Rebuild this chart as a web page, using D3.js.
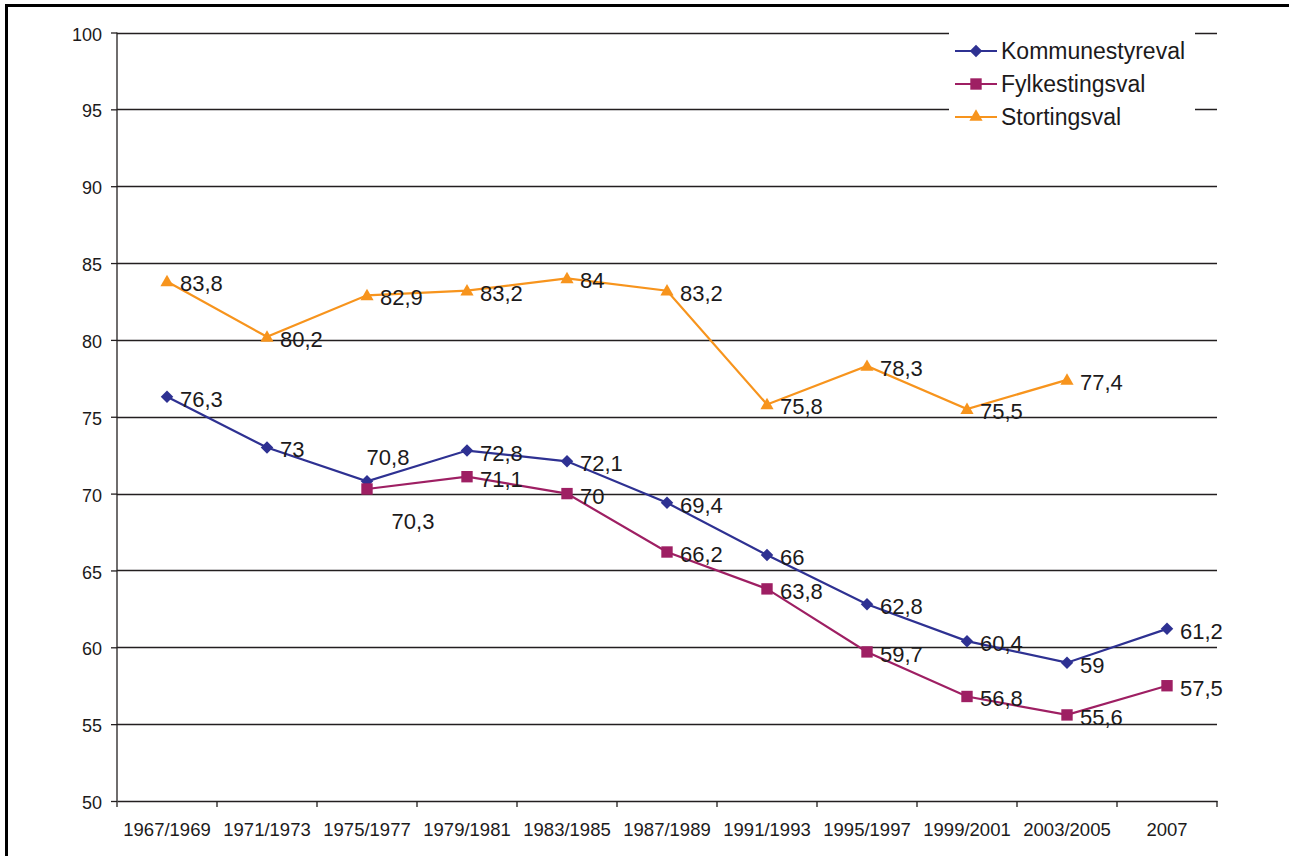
<!DOCTYPE html>
<html>
	<head>
		<title>Valdeltaking</title>
		<style>
			body, html {
				margin: 0;
				padding: 0;
				background: #fff;
			}
			text {
				font-family: 'Liberation Sans', Arial, sans-serif;
				fill: #1c1a1b;
			}
		</style>
	</head>
	<body>

		<svg id="svg" width="1289" height="856"></svg>

		<script src="https://d3js.org/d3.v7.min.js"></script>
		<script>
			// Election periods (x axis)
			const periods = ['1967/1969', '1971/1973', '1975/1977', '1979/1981', '1983/1985',
				'1987/1989', '1991/1993', '1995/1997', '1999/2001', '2003/2005', '2007']

			// Turnout in percent, null where there was no election
			const kommunestyreval = [76.3, 73, 70.8, 72.8, 72.1, 69.4, 66, 62.8, 60.4, 59, 61.2]
			const fylkestingsval = [null, null, 70.3, 71.1, 70, 66.2, 63.8, 59.7, 56.8, 55.6, 57.5]
			const stortingsval = [83.8, 80.2, 82.9, 83.2, 84, 83.2, 75.8, 78.3, 75.5, 77.4, null]

			const yTicks = [50, 55, 60, 65, 70, 75, 80, 85, 90, 95, 100]

			const series = [
				{ name: 'Kommunestyreval', values: kommunestyreval, color: '#2e3192', symbol: d3.symbolDiamond2, size: 100 },
				{ name: 'Fylkestingsval', values: fylkestingsval, color: '#9e1f63', symbol: d3.symbolSquare2, size: 165 },
				{ name: 'Stortingsval', values: stortingsval, color: '#f7941d', symbol: d3.symbolTriangle2, size: 125 }
			]

			// a couple of labels were moved by hand in the original
			const labelNudge = {
				'Kommunestyreval-2': [0, -26],
				'Fylkestingsval-2': [25, 30]
			}

			const svg = d3.select('#svg')

			// frame on left and top
			svg.append('line').attr('x1', 6.5).attr('x2', 6.5).attr('y1', 4).attr('y2', 856)
				.attr('stroke', '#000').attr('stroke-width', 3)
			svg.append('line').attr('x1', 5).attr('x2', 1289).attr('y1', 5.5).attr('y2', 5.5)
				.attr('stroke', '#000').attr('stroke-width', 3)

			const x = d3.scaleBand()
				.domain(periods)
				.range([117, 1217])

			const y = d3.scaleLinear()
				.domain([50, 100])
				.range([801, 32.5])

			const cx = d => x(d) + x.bandwidth() / 2

			// gridlines
			svg.append('g')
				.selectAll('line')
				.data(yTicks.filter(t => t > 50))
				.join('line')
				.attr('x1', 117)
				.attr('x2', 1217)
				.attr('y1', d => Math.round(y(d)) + 0.5)
				.attr('y2', d => Math.round(y(d)) + 0.5)
				.attr('stroke', '#231f20')
				.attr('stroke-width', 1.3)

			// y axis
			const yAxis = svg.append('g')
				.attr('transform', 'translate(117,0)')
				.call(d3.axisLeft(y).tickValues(yTicks).tickSize(6).tickPadding(9))
			yAxis.selectAll('path, line').attr('stroke', '#231f20').attr('stroke-width', 1.3)
			yAxis.select('.domain').attr('d', `M0,${y(100)}V${y(50)}`)
			yAxis.selectAll('text')
				.attr('font-size', 18)
				.attr('font-family', null)
				.attr('fill', null)
				.attr('dy', '0.42em')

			// x axis
			const xAxis = svg.append('g')
				.attr('transform', `translate(0,${y(50)})`)
				.call(d3.axisBottom(x).tickSize(0).tickPadding(22))
			xAxis.select('.domain').attr('stroke', '#231f20').attr('stroke-width', 1.3)
			xAxis.selectAll('text')
				.attr('font-size', 18.5)
				.attr('font-family', null)
				.attr('fill', null)
			xAxis.selectAll('.tick-mark')
				.data(periods.map(p => x(p)).concat([1217]))
				.join('line')
				.attr('x1', d => d)
				.attr('x2', d => d)
				.attr('y1', 0)
				.attr('y2', 6)
				.attr('stroke', '#231f20')
				.attr('stroke-width', 1.3)

			// lines, markers, labels
			series.forEach(s => {
				const pts = periods.map((p, i) => ({ p, v: s.values[i], i })).filter(d => d.v !== null)

				const line = d3.line()
					.x(d => cx(d.p))
					.y(d => y(d.v))

				svg.append('path')
					.datum(pts)
					.attr('d', line)
					.attr('fill', 'none')
					.attr('stroke', s.color)
					.attr('stroke-width', 2.2)

				svg.append('g')
					.selectAll('path')
					.data(pts)
					.join('path')
					.attr('transform', d => `translate(${cx(d.p)},${y(d.v) + (s.symbol === d3.symbolTriangle2 ? 1 : 0)})`)
					.attr('d', d3.symbol(s.symbol, s.size))
					.attr('fill', s.color)

				svg.append('g')
					.selectAll('text')
					.data(pts)
					.join('text')
					.attr('x', d => {
						const n = labelNudge[s.name + '-' + d.i]
						return n ? cx(d.p) + 21 + n[0] : cx(d.p) + 13
					})
					.attr('y', d => {
						const n = labelNudge[s.name + '-' + d.i]
						return y(d.v) + 10 + (n ? n[1] : 0)
					})
					.attr('text-anchor', d => labelNudge[s.name + '-' + d.i] ? 'middle' : 'start')
					.attr('font-size', 22)
					.text(d => String(d.v).replace('.', ','))
			})

			// legend
			const legend = svg.append('g')
			legend.append('rect')
				.attr('x', 949).attr('y', 26)
				.attr('width', 246).attr('height', 112)
				.attr('fill', '#fff')

			const item = legend.selectAll('g')
				.data(series)
				.join('g')
				.attr('transform', (d, i) => `translate(955,${51 + i * 33})`)

			item.append('line')
				.attr('x1', 0).attr('x2', 42)
				.attr('stroke', d => d.color)
				.attr('stroke-width', 2.2)
			item.append('path')
				.attr('transform', 'translate(21,0)')
				.attr('d', d => d3.symbol(d.symbol, d.size)())
				.attr('fill', d => d.color)
			item.append('text')
				.attr('x', 46)
				.attr('y', 8)
				.attr('font-size', 23)
				.text(d => d.name)
		</script>
	</body>
</html>
